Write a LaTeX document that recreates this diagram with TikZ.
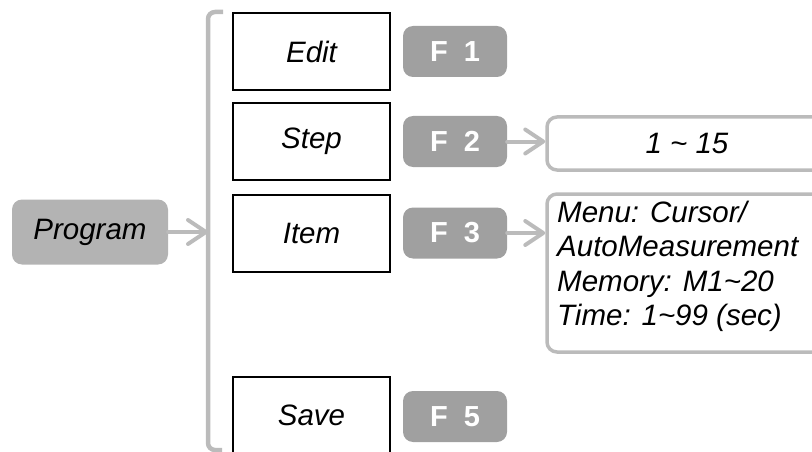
\documentclass[tikz,border=0pt]{standalone}
\usepackage{fontspec}
\setmainfont{Liberation Sans}
\usetikzlibrary{arrows.meta}
\definecolor{progfill}{HTML}{B3B3B3}
\definecolor{keyfill}{HTML}{A0A0A0}
\definecolor{linegray}{HTML}{BBBBBB}

\begin{document}
\begin{tikzpicture}[x=1pt,y=-1pt,
  every node/.style={font=\fontsize{29.5}{34.5}\selectfont\itshape},
  menubox/.style={draw=black,line width=1.2pt,minimum width=157pt,minimum height=77pt,inner sep=0pt},
  fkey/.style={fill=keyfill,rounded corners=10pt,minimum width=104pt,minimum height=51pt,text=white,font=\fontsize{29}{34}\selectfont\bfseries},
  valbox/.style={draw=linegray,line width=3.5pt,rounded corners=10pt},
  grayarrow/.style={draw=linegray,line width=4pt,line cap=round,-{Straight Barb[length=18pt,width=24pt,round]}}]
  \clip (0,0) rectangle (812,452);
  \node[fill=progfill,rounded corners=10pt,minimum width=156pt,minimum height=65pt] (prog) at (90,232) {Program};
  \coordinate (brk) at (208,232);
  \draw[linegray,line width=4.5pt,rounded corners=7pt] (223,12) -- (208,12) -- (208,450) -- (222,450);
  \draw[grayarrow] (prog) -- (brk);
  % menu entries
  \node[menubox] (edit) at (311.5,51.5) {Edit};
  \node[menubox] (step) at (311.5,141.5) {Step};
  \node[menubox] (item) at (311.5,233.5) {Item};
  \node[menubox] (save) at (311.5,415.5) {Save};
  % function keys
  \node[fkey] (f1) at (455,51.5) {F\ \ 1};
  \node[fkey] (f2) at (455,141.5) {F\ \ 2};
  \node[fkey] (f3) at (455,233) {F\ \ 3};
  \node[fkey] (f5) at (455,416.5) {F\ \ 5};
  % values
  \node[valbox,minimum width=280pt,minimum height=53pt] (stepv) at (687,143.5) {1 \textasciitilde{} 15};
  \node[valbox,minimum width=280pt,minimum height=158pt] (itemv) at (687,273) {};
  \node[anchor=north west,align=left,inner sep=0pt] (itemtxt) at (557,200.5)
    {Menu: Cursor/\\AutoMeasurement\\Memory: M1\textasciitilde20\\Time: 1\textasciitilde99 (sec)};
  \draw[grayarrow] (f2.east) -- (f2.east -| stepv.west);
  \draw[grayarrow] (f3.east) -- (f3.east -| itemv.west);
\end{tikzpicture}
\end{document}
